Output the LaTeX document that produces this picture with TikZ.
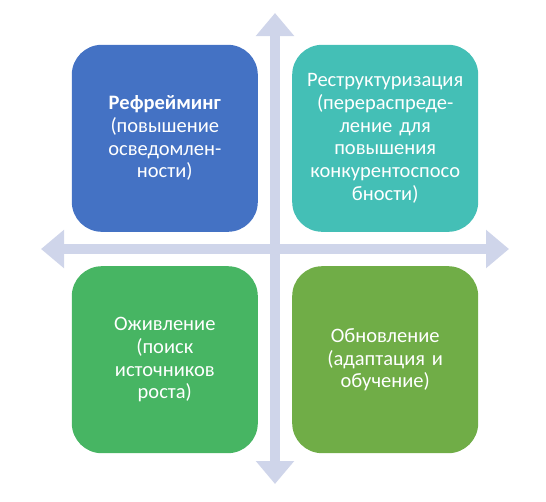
\documentclass[tikz,border=0pt]{standalone}
\usepackage{fontspec}
\setmainfont{Carlito}
\usetikzlibrary{positioning,arrows.meta}

\definecolor{axisgray}{HTML}{CFD5EA}
\definecolor{qblue}{HTML}{4472C4}
\definecolor{qteal}{HTML}{44BFB6}
\definecolor{qgreen}{HTML}{47B563}
\definecolor{qolive}{HTML}{70AD47}

\tikzset{
  quad/.style={draw=none, rounded corners=30pt, minimum width=186pt, minimum height=187pt,
    text width=176pt, align=center, text=white, font=\fontsize{20.5}{22.7}\selectfont},
  axis/.style={draw=axisgray, line width=10pt,
    {Triangle[width=37pt,length=23pt]}-{Triangle[width=37pt,length=23pt]}}
}

\begin{document}
\begin{tikzpicture}[x=1pt,y=1pt]
  \useasboundingbox (0,0) rectangle (546,-501);

  \coordinate (c) at (275,-249);
  \coordinate (top) at (275,-13);
  \coordinate (bot) at (275,-484);
  \coordinate (lft) at (41,-249);
  \coordinate (rgt) at (509,-249);

  % axes
  \draw[axis] (bot) -- (top);
  \draw[axis] (lft) -- (rgt);

  % quadrants
  \node[quad, fill=qblue, above left = 17pt and 17pt of c] (refr)
    {\textbf{Рефрейминг}\\(повышение\\осведомлен-\\ности)};
  \node[quad, fill=qteal, above right = 17pt and 17pt of c] (restr)
    {Реструктуризация\\(перераспреде-\\ление для\\повышения\\конкурентоспосо\\бности)};
  \node[quad, fill=qgreen, below left = 17pt and 17pt of c] (ozhiv)
    {Оживление\\(поиск\\источников\\роста)};
  \node[quad, fill=qolive, below right = 17pt and 17pt of c] (obnov)
    {Обновление\\(адаптация и\\обучение)};
\end{tikzpicture}
\end{document}
